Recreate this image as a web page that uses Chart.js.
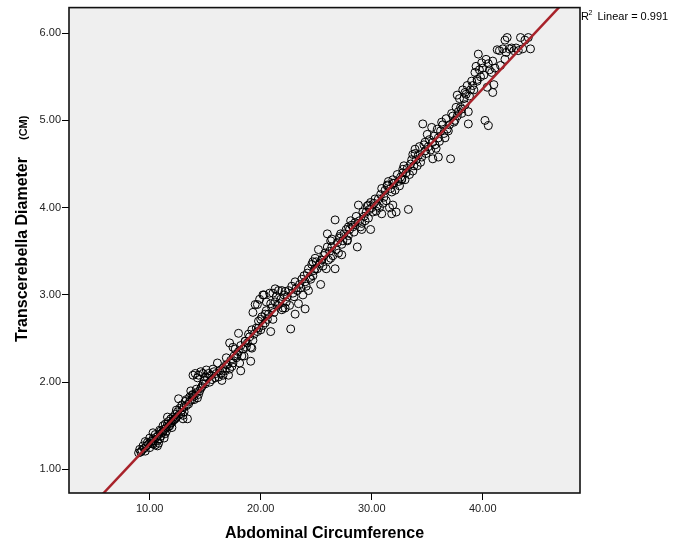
<!DOCTYPE html>
<html lang="en">
<head>
  <meta charset="UTF-8">
  <title>Transcerebellar Diameter vs Abdominal Circumference</title>
  <script src="https://cdn.jsdelivr.net/npm/chart.js@4.4.1/dist/chart.umd.min.js"></script>
  <style>
    html, body {
      margin: 0;
      padding: 0;
      background: #ffffff;
    }

    #scatter {
      display: block;
    }
  </style>
</head>
<body>
<canvas id="scatter" width="685" height="544"></canvas>

<script>
  // Abdominal circumference (x) and transcerebellar diameter in cm (y)
  const abdCirc = [
    9.0, 9.2, 9.3, 9.5, 9.6, 9.7, 9.9, 10.0, 10.1, 10.2, 10.3, 10.4, 10.5, 10.6, 10.7, 10.8, 10.9, 11.0, 11.1, 11.2,
    11.3, 11.4, 11.5, 11.6, 11.7, 11.8, 11.9, 12.0, 12.1, 12.2, 12.3, 12.4, 12.5, 12.6, 12.7, 12.8, 12.9, 13.0, 13.1, 13.2,
    13.4, 13.3, 13.5, 13.6, 13.8, 13.9, 14.0, 14.1, 14.2, 14.3, 14.4, 14.5, 14.6, 14.7, 14.8, 14.9, 15.0, 15.1, 15.2, 15.3,
    15.5, 15.6, 15.8, 16.0, 16.1, 16.2, 16.4, 16.5, 16.6, 16.8, 17.0, 17.1, 17.2, 17.3, 17.4, 17.6, 17.8, 18.0, 18.1, 18.2,
    18.4, 18.5, 18.6, 18.8, 19.0, 19.1, 19.2, 19.4, 19.5, 19.6, 19.8, 19.9, 20.0, 20.1, 20.3, 20.4, 20.5, 20.7, 20.8, 21.0,
    21.1, 21.3, 21.5, 21.6, 21.8, 22.0, 22.1, 22.3, 22.5, 22.7, 22.8, 23.0, 23.2, 23.4, 23.5, 23.7, 24.0, 24.2, 24.4, 24.6,
    24.8, 25.0, 25.2, 25.4, 25.5, 25.7, 25.9, 26.0, 26.2, 26.4, 26.7, 26.7, 26.9, 27.1, 27.3, 27.5, 27.8, 28.0, 28.2, 28.4,
    28.7, 28.8, 28.9, 29.1, 29.3, 29.5, 29.7, 30.0, 30.2, 30.4, 30.6, 30.8, 31.0, 31.2, 31.4, 31.6, 31.8, 32.0, 32.2, 32.4,
    32.6, 32.8, 33.0, 33.2, 33.3, 33.5, 33.7, 34.0, 34.2, 34.4, 34.6, 34.8, 35.0, 35.1, 35.4, 35.5, 35.8, 36.0, 36.3, 36.5,
    36.8, 37.0, 37.1, 37.3, 37.5, 37.8, 38.0, 38.3, 38.5, 38.7, 38.9, 39.1, 39.3, 39.6, 39.8, 40.0, 40.2, 40.5, 40.5, 40.8,
    41.0, 41.3, 41.6, 42.0, 42.2, 42.4, 42.8, 43.0, 43.4, 43.6, 44.1, 44.3,
    9.1, 9.4, 9.8, 10.0, 10.3, 10.5, 10.7, 10.9, 11.0, 11.2, 11.4, 11.5, 11.7, 11.9, 12.1, 12.3,
    12.6, 12.9, 13.1, 13.3, 13.6, 13.8, 14.0, 14.2, 14.4, 14.6, 14.8, 13.9, 14.3,
    15.0, 15.4, 15.7, 15.9, 16.3, 16.6, 16.9, 17.2, 17.5, 17.7, 17.9, 18.3, 18.7, 16.9, 17.5,
    18.9, 19.3, 19.7, 20.0, 20.2, 20.6, 20.9, 21.2, 21.4, 21.7, 21.9, 22.2, 22.4, 22.6, 22.9, 23.1, 23.3, 23.6, 23.9, 24.1,
    19.3, 20.5, 21.1,
    24.3, 24.5, 24.7, 24.9, 25.1, 25.3, 25.6, 25.8, 26.1, 26.3, 26.5, 26.8, 27.0, 27.2, 27.4, 27.7, 27.9,
    28.1, 28.3, 28.5, 28.6, 29.0, 29.2, 29.4, 29.6, 29.8, 29.9, 30.1, 30.3, 30.5, 30.7, 30.9, 31.1, 31.3, 31.5, 31.7, 31.9,
    32.1, 32.3, 32.5, 32.7, 32.9, 33.1, 33.4, 33.6, 33.8, 33.9,
    34.1, 34.3, 34.5, 34.7, 34.9, 35.2, 35.3, 35.6, 35.7, 35.9, 36.1, 36.2, 36.4, 36.6, 36.7, 36.9, 37.2, 37.4, 37.6, 37.7,
    37.9, 38.1, 38.2, 38.4, 38.6,
    38.8, 39.0, 39.2, 39.4, 39.5, 39.7, 39.9, 40.1, 40.3, 40.6, 40.9, 41.1, 41.5, 41.8, 42.1, 42.6, 43.2, 43.8, 42.0,
    23.8, 24.3, 24.7, 25.5, 26.3, 26.0, 26.4, 27.1, 27.8, 27.3, 27.9, 29.1, 29.9, 29.7, 30.9, 31.8, 31.9, 31.4, 31.9, 32.7,
    32.8, 33.7, 33.9, 34.8, 35.5, 36.0, 37.7, 38.4, 38.1, 38.7, 39.5, 40.4, 40.9,
    19.7, 20.2, 21.3, 22.2, 20.4, 21.9, 23.1, 24.0, 20.9, 19.8, 18.0, 18.6, 19.1, 18.2, 19.2, 24.9,
    9.6, 10.3, 10.8, 11.3, 11.6, 12.0, 12.4, 13.0, 13.7
  ];
  const tcd = [
    1.19, 1.20, 1.22, 1.24, 1.21, 1.27, 1.29, 1.25, 1.32, 1.30, 1.35, 1.33, 1.28, 1.37, 1.27, 1.40, 1.35, 1.44, 1.42, 1.50,
    1.46, 1.41, 1.48, 1.52, 1.55, 1.50, 1.58, 1.54, 1.60, 1.57, 1.63, 1.60, 1.66, 1.81, 1.70, 1.64, 1.74, 1.58, 1.72, 1.78,
    1.58, 1.80, 1.75, 1.83, 1.80, 1.86, 1.84, 2.10, 1.88, 1.82, 2.08, 1.90, 2.12, 1.95, 2.10, 2.02, 1.98, 2.14, 2.05, 2.10,
    2.08, 2.03, 2.12, 2.10, 2.22, 2.06, 2.10, 2.02, 2.16, 2.13, 2.20, 2.08, 2.45, 2.25, 2.18, 2.30, 2.28, 2.35, 2.22, 2.42,
    2.38, 2.30, 2.47, 2.45, 2.52, 2.40, 2.60, 2.55, 2.89, 2.62, 2.70, 2.95, 2.60, 2.75, 3.00, 2.68, 2.82, 2.78, 3.02, 2.85,
    2.72, 2.92, 2.88, 3.05, 2.95, 2.85, 3.00, 2.92, 3.05, 2.61, 3.10, 2.98, 3.08, 2.90, 3.12, 3.18, 3.15, 3.25, 3.20, 3.35,
    3.28, 3.38, 3.52, 3.12, 3.40, 3.45, 3.30, 3.70, 3.50, 3.55, 3.30, 3.86, 3.60, 3.65, 3.58, 3.70, 3.62, 3.75, 3.80, 3.72,
    3.55, 4.03, 3.85, 3.82, 3.90, 3.95, 3.88, 4.00, 4.05, 3.96, 4.10, 4.15, 4.05, 4.20, 4.25, 4.00, 4.18, 4.28, 3.95, 4.30,
    4.35, 4.40, 4.32, 4.45, 3.98, 4.50, 4.42, 4.55, 4.60, 4.52, 4.96, 4.65, 4.84, 4.70, 4.92, 4.75, 4.68, 4.80, 4.98, 4.85,
    4.90, 4.95, 4.56, 5.05, 5.00, 5.10, 5.15, 5.25, 5.30, 4.96, 5.35, 5.40, 5.55, 5.76, 5.50, 5.60, 5.00, 4.94, 5.65, 5.55,
    5.41, 5.81, 5.63, 5.70, 5.95, 5.82, 5.80, 5.83, 5.95, 5.82, 5.95, 5.82,
    1.23, 1.27, 1.31, 1.36, 1.29, 1.40, 1.33, 1.45, 1.38, 1.43, 1.52, 1.44, 1.49, 1.53, 1.56, 1.58,
    1.62, 1.68, 1.66, 1.73, 1.78, 1.85, 1.80, 1.92, 1.86, 1.93, 1.98, 2.08, 2.05,
    2.06, 2.00, 2.15, 2.05, 2.13, 2.08, 2.20, 2.15, 2.22, 2.38, 2.32, 2.30, 2.40, 2.28, 2.40,
    2.55, 2.48, 2.58, 2.72, 2.65, 2.72, 2.90, 2.80, 2.98, 2.90, 3.05, 2.85, 2.98, 2.88, 3.02, 3.15, 3.05, 3.08, 3.22, 3.10,
    2.80, 2.92, 3.02,
    3.30, 3.18, 3.22, 3.42, 3.30, 3.36, 3.33, 3.48, 3.40, 3.62, 3.45, 3.52, 3.48, 3.70, 3.62, 3.75, 3.68,
    3.85, 3.78, 3.83, 3.90, 3.78, 3.95, 3.85, 4.02, 3.98, 4.06, 3.95, 4.10, 4.02, 4.00, 4.22, 4.12, 4.08, 4.30, 4.22, 4.28,
    4.20, 4.38, 4.25, 4.32, 4.48, 4.40, 4.38, 4.55, 4.48, 4.62,
    4.48, 4.70, 4.58, 4.72, 4.62, 4.78, 4.66, 4.82, 4.72, 4.90, 4.76, 4.88, 4.95, 4.80, 5.02, 4.88, 5.08, 4.98, 5.15, 5.05,
    5.25, 5.08, 5.35, 5.18, 5.40,
    5.28, 5.45, 5.35, 5.62, 5.45, 5.58, 5.66, 5.52, 5.70, 5.58, 5.68, 5.60, 5.80, 5.82, 5.78, 5.83, 5.80, 5.92, 5.92,
    3.00, 3.05, 3.38, 3.40, 3.42, 3.55, 3.64, 3.67, 3.63, 3.46, 3.78, 3.75, 3.75, 4.03, 3.93, 3.93, 4.03, 4.26, 4.32, 4.33,
    4.44, 4.61, 4.67, 4.75, 4.56, 4.58, 5.29, 5.32, 5.13, 5.10, 5.47, 5.38, 5.32,
    2.89, 3.00, 3.07, 3.04, 2.78, 2.83, 2.78, 2.84, 2.58, 2.62, 2.56, 2.47, 2.24, 2.13, 2.39, 3.30,
    1.32, 1.42, 1.30, 1.36, 1.60, 1.48, 1.68, 1.62, 1.90
  ];

  // Linear fit line end points and R squared
  const fitX = [5.0, 48.0];
  const fitY = [0.614, 6.449];
  const rSquared = '0.991';

  // Axis ranges and tick values
  const xRange = [2.73, 48.76];
  const yRange = [0.73, 6.293];
  const xTicks = [10, 20, 30, 40];
  const yTicks = [1, 2, 3, 4, 5, 6];

  const FONT = "'Liberation Sans', Arial, sans-serif";

  const points = abdCirc.map((x, i) => ({x: x, y: tcd[i]}));
  const fitPoints = fitX.map((x, i) => ({x: x, y: fitY[i]}));

  // grey plot background plus the black frame around it
  const plotFrame = {
    id: 'plotFrame',
    beforeDatasetsDraw(chart) {
      const {ctx, chartArea: a} = chart;
      ctx.save();
      ctx.fillStyle = '#efefef';
      ctx.fillRect(a.left, a.top, a.right - a.left, a.bottom - a.top);
      ctx.restore();
    },
    afterDraw(chart) {
      const {ctx, chartArea: a} = chart;
      ctx.save();
      ctx.strokeStyle = '#111';
      ctx.lineWidth = 1.6;
      ctx.strokeRect(a.left, a.top, a.right - a.left, a.bottom - a.top);

      // y axis title, "(CM)" in a smaller face
      ctx.fillStyle = '#000';
      ctx.translate(27, 342);
      ctx.rotate(-Math.PI / 2);
      ctx.textAlign = 'left';
      ctx.textBaseline = 'alphabetic';
      ctx.font = 'bold 16px ' + FONT;
      const main = 'Transcerebella Diameter';
      ctx.fillText(main, 0, 0);
      const w = ctx.measureText(main).width;
      ctx.font = 'bold 11px ' + FONT;
      ctx.fillText('(CM)', w + 17, 0);
      ctx.restore();

      // R squared note at top right
      ctx.save();
      ctx.fillStyle = '#000';
      ctx.textBaseline = 'alphabetic';
      ctx.font = '11px ' + FONT;
      ctx.fillText('R', 581, 19.5);
      ctx.font = '7px ' + FONT;
      ctx.fillText('2', 588.5, 15);
      ctx.font = '11px ' + FONT;
      ctx.fillText('Linear = ' + rSquared, 597.5, 19.5);
      ctx.restore();
    }
  };

  const ctx = document.getElementById('scatter').getContext('2d');
  new Chart(ctx, {
    type: 'scatter',
    data: {
      datasets: [{
        type: 'line',
        data: fitPoints,
        borderColor: '#a8222a',
        borderWidth: 2.5,
        pointRadius: 0,
        fill: false,
        order: 0
      }, {
        data: points,
        pointStyle: 'circle',
        pointRadius: 4,
        borderWidth: 1,
        borderColor: '#000',
        backgroundColor: 'rgba(0,0,0,0)',
        order: 1
      }]
    },
    options: {
      responsive: false,
      animation: false,
      layout: {
        padding: {left: 0, top: 5, right: 105, bottom: 0}
      },
      plugins: {
        legend: {display: false},
        tooltip: {enabled: false}
      },
      scales: {
        x: {
          type: 'linear',
          min: xRange[0],
          max: xRange[1],
          afterBuildTicks: (scale) => {
            scale.ticks = xTicks.map(v => ({value: v}));
          },
          afterFit: (scale) => {
            scale.height = 51;
          },
          ticks: {
            callback: (v) => v.toFixed(2),
            color: '#222',
            padding: 2,
            font: {family: FONT, size: 11}
          },
          grid: {
            drawOnChartArea: false,
            drawTicks: true,
            tickLength: 7,
            color: '#000'
          },
          border: {display: false},
          title: {
            display: true,
            text: 'Abdominal Circumference',
            color: '#000',
            padding: {top: 0, bottom: 1},
            font: {family: FONT, size: 16, weight: 'bold'}
          }
        },
        y: {
          type: 'linear',
          min: yRange[0],
          max: yRange[1],
          afterBuildTicks: (scale) => {
            scale.ticks = yTicks.map(v => ({value: v}));
          },
          afterFit: (scale) => {
            scale.width = 69;
          },
          ticks: {
            callback: (v) => v.toFixed(2),
            color: '#222',
            padding: 1,
            font: {family: FONT, size: 11}
          },
          grid: {
            drawOnChartArea: false,
            drawTicks: true,
            tickLength: 7,
            color: '#000'
          },
          border: {display: false}
        }
      }
    },
    plugins: [plotFrame]
  });
</script>
</body>
</html>
